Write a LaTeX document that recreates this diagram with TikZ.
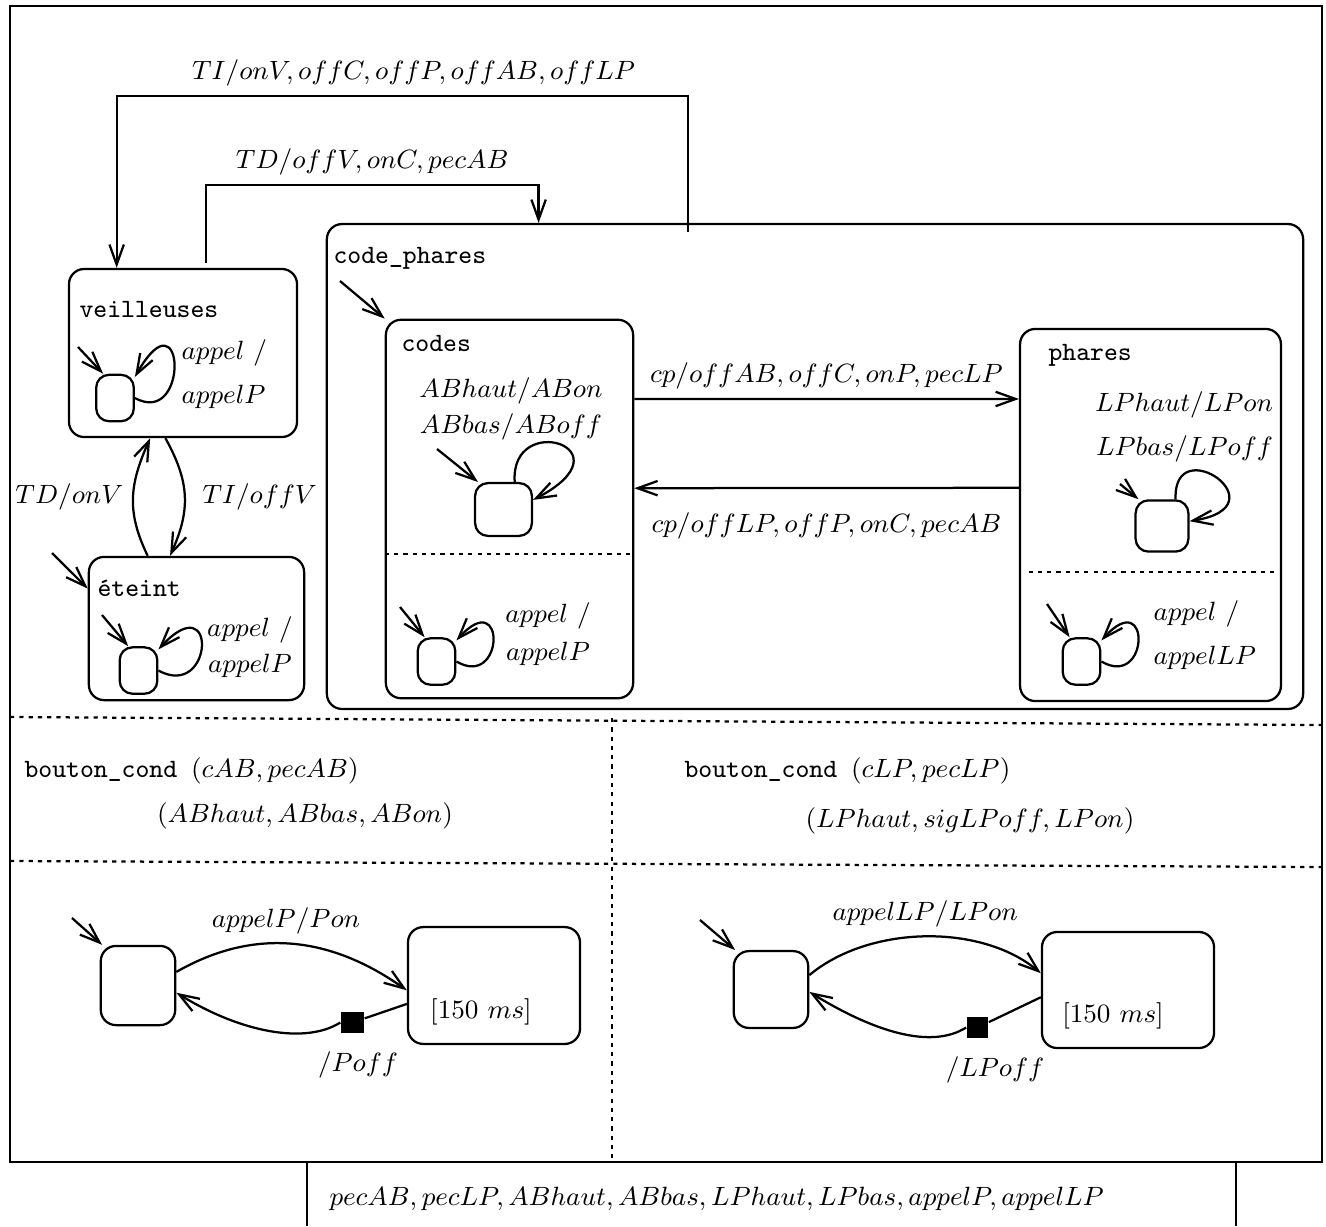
\RequirePackage{fix-cm}
\documentclass[tikz,border=0pt]{standalone}
\usepackage{fontspec}
\usepackage{amsmath}
\usetikzlibrary{arrows.meta,positioning}

\begin{document}
\fontsize{9.4}{11.6}\selectfont
\begin{tikzpicture}[x=0.0125cm, y=-0.0125cm, >={Straight Barb[length=2.5mm,width=1.8mm]},
    etat/.style={draw, thick, rounded corners=0.19cm, inner sep=0pt},
    petit/.style={draw, thick, rounded corners=0.16cm, inner sep=0pt, minimum width=0.47cm, minimum height=0.58cm},
    fleche/.style={->, thick},
    pointille/.style={thick, dash pattern=on 1.5pt off 1.8pt},
    nom/.style={anchor=west, inner sep=0pt, font=\ttfamily}]
    \useasboundingbox (0,0) rectangle (1326,1226);

    % cadre general
    \draw[thick] (10,6) rectangle (1322,1162);
    \draw[thick] (307,1162) -- (307,1226);
    \draw[thick] (1236,1162) -- (1236,1226);
    \draw[pointille] (10,717) -- (1322,725);
    \draw[pointille] (10,861) -- (1322,867);
    \draw[pointille] (612,718) -- (612,1162);

    % veilleuses
    \node[etat, minimum width=2.85cm, minimum height=2.1cm] (veil) at (183,353) {};
    \node[nom] (veilNom) at (79,309) {veilleuses};
    \node[petit] (vInt) at (115,398) {};
    \node[anchor=west, inner sep=0pt, align=left] (vLab) at (181,374) {$appel\ /$\\[4pt]$appelP$};

    % eteint
    \node[etat, minimum width=2.69cm, minimum height=1.79cm] (eteint) at (196.5,628.5) {};
    \node[nom] (etNom) at (97,588) {éteint};
    \node[petit] (eInt) at (138.5,670.5) {};
    \node[align=center] (eLab) at (250,647) {$appel\ /$\\[1pt]$appelP$};

    % code_phares
    \node[etat, minimum width=12.2cm, minimum height=6.06cm] (cph) at (815,466.5) {};
    \node[nom] (cphNom) at (333,258) {code\_phares};

    \node[etat, minimum width=3.09cm, minimum height=4.73cm] (codes) at (509.5,509) {};
    \node[nom] (codesNom) at (401,343) {codes};
    \node[align=center] (cLab) at (511,409) {$ABhaut/ABon$\\[1pt]$ABbas/ABoff$};
    \node[petit, minimum width=0.71cm, minimum height=0.66cm] (cInt1) at (503.5,509.5) {};
    \node[petit] (cInt2) at (436.5,661.5) {};
    \node[align=center] (cLab2) at (548,634) {$appel\ /$\\[2pt]$appelP$};

    \node[etat, minimum width=3.26cm, minimum height=4.65cm] (phares) at (1150.5,515) {};
    \node[nom] (pharesNom) at (1048,355) {phares};
    \node[align=right] (pLab) at (1184,427) {$LPhaut/LPon$\\[4pt]$LPbas/LPoff$};
    \node[petit, minimum width=0.66cm, minimum height=0.64cm] (pInt1) at (1162,526) {};
    \node[petit] (pInt2) at (1081.5,661.5) {};
    \node[anchor=west, inner sep=0pt, align=left] (pLab2) at (1153,635) {$appel\ /$\\[4pt]$appelLP$};

    % transitions du haut
    \coordinate (tiDep) at (688,232);
    \draw[fleche] (tiDep) -- ++(0,-136) -| node[pos=0.24, above] {$TI/onV, offC, offP, offAB, offLP$} ([xshift=0.61cm]veil.north west);
    \coordinate (tdDep) at (206,263);
    \draw[fleche] (tdDep) -- ++(0,-78) -| node[pos=0.25, above] {$TD/offV, onC, pecAB$} ([xshift=2.66cm]cph.north west);

    \draw[fleche] ([xshift=-0.61cm]eteint.north) .. controls +(-22,-45) and +(-20,45) .. node[left] {$TD/onV$} ([xshift=-0.41cm]veil.south);
    \draw[fleche] ([xshift=-0.22cm]veil.south) .. controls +(25,45) and +(20,-45) .. node[right, xshift=0.1cm] {$TI/offV$} ([xshift=-0.33cm]eteint.north);

    \draw[fleche] ([yshift=1.375cm]codes.east) -- node[above] {$cp/offAB, offC, onP, pecLP$} ([yshift=1.45cm]phares.west);
    \draw[fleche] ([yshift=0.34cm]phares.west) -- node[below, yshift=-0.18cm] {$cp/offLP, offP, onC, pecAB$} ([yshift=0.26cm]codes.east);

    % etats initiaux et boucles
    \coordinate (iniE) at (52,553);
    \draw[fleche] (iniE) -- ([yshift=-0.41cm]eteint.north west);
    \coordinate (iniV) at (78,347);
    \draw[fleche] (iniV) -- ([xshift=0.1cm]vInt.north west);
    \draw[fleche] (vInt.east) .. controls +(55,30) and +(50,-88) .. ([yshift=-0.04cm]vInt.north east);
    \coordinate (iniEI) at (102,615);
    \draw[fleche] (iniEI) -- ([xshift=0.12cm]eInt.north west);
    \draw[fleche] (eInt.east) .. controls +(55,30) and +(60,-65) .. ([yshift=-0.04cm]eInt.north east);

    \coordinate (iniC) at (340,281);
    \draw[fleche] (iniC) -- (codes.north west);
    \coordinate (iniC1) at (437,449);
    \draw[fleche] (iniC1) -- ([xshift=0.05cm]cInt1.north west);
    \draw[fleche] ([xshift=0.14cm]cInt1.north) .. controls +(-5,-72) and +(100,-52) .. ([yshift=0.12cm]cInt1.east);
    \coordinate (iniC2) at (400,607);
    \draw[fleche] (iniC2) -- ([xshift=0.1cm]cInt2.north west);
    \draw[fleche] (cInt2.east) .. controls +(48,28) and +(50,-55) .. ([yshift=-0.04cm]cInt2.north east);

    \coordinate (iniP1) at (1120,484);
    \draw[fleche] (iniP1) -- ([xshift=0.05cm]pInt1.north west);
    \draw[fleche] ([xshift=0.17cm]pInt1.north) .. controls +(-3,-70) and +(95,-15) .. ([yshift=0.06cm]pInt1.east);
    \coordinate (iniP2) at (1047,604);
    \draw[fleche] (iniP2) -- ([xshift=0.1cm]pInt2.north west);
    \draw[fleche] (pInt2.east) .. controls +(48,28) and +(50,-55) .. ([yshift=-0.04cm]pInt2.north east);

    \draw[pointille] ([yshift=-0.56cm]codes.west) -- ([yshift=-0.56cm]codes.east);
    \draw[pointille] ([xshift=0.12cm, yshift=-0.71cm]phares.west) -- ([xshift=-0.08cm, yshift=-0.71cm]phares.east);

    % bouton_cond
    \node[nom] (bc1) at (24,771) {bouton\_cond $(cAB, pecAB)$};
    \node (bc1b) at (305,816) {$(ABhaut, ABbas, ABon)$};
    \node[nom] (bc2) at (684,771) {bouton\_cond $(cLP, pecLP)$};
    \node (bc2b) at (970,821) {$(LPhaut, sigLPoff, LPon)$};

    \node[etat, minimum width=0.93cm, minimum height=0.99cm] (bA) at (138,985.5) {};
    \node[etat, minimum width=2.15cm, minimum height=1.46cm] (bB) at (494,985.5) {};
    \node[fill, inner sep=0pt, minimum width=0.29cm, minimum height=0.26cm] (sqA) at (352.5,1022.5) {};
    \node (tA) at (481,1012) {$[150\ ms]$};
    \node (lPoff) at (358,1065) {$/Poff$};
    \coordinate (iniBA) at (72,918);
    \draw[fleche] (iniBA) -- ([xshift=0.03cm]bA.north west);
    \draw[fleche] ([yshift=0.17cm]bA.east) .. controls +(70,-40) and +(-85,-60) .. node[above] {$appelP/Pon$} ([yshift=-0.06cm]bB.west);
    \draw[thick] ([yshift=-0.23cm]bB.west) -- (sqA);
    \draw[fleche] (sqA.west) .. controls +(-35,22) and +(65,40) .. ([yshift=-0.09cm]bA.east);

    \node[etat, minimum width=0.93cm, minimum height=0.96cm] (brA) at (771,989.5) {};
    \node[etat, minimum width=2.15cm, minimum height=1.45cm] (brB) at (1128,990) {};
    \node[fill, inner sep=0pt, minimum width=0.27cm, minimum height=0.27cm] (sqB) at (977.5,1027.5) {};
    \node (tB) at (1113,1016) {$[150\ ms]$};
    \node (lLPoff) at (995,1070) {$/LPoff$};
    \coordinate (iniBRA) at (700,920);
    \draw[fleche] (iniBRA) -- ([xshift=0.03cm]brA.north west);
    \draw[fleche] ([yshift=0.18cm]brA.east) .. controls +(60,-50) and +(-60,-50) .. node[above] {$appelLP/LPon$} ([yshift=0.21cm]brB.west);
    \draw[thick] ([yshift=-0.09cm]brB.west) -- (sqB);
    \draw[fleche] (sqB.west) .. controls +(-35,22) and +(65,40) .. ([yshift=-0.03cm]brA.east);

    % signaux
    \node (sig) at (717,1199) {$pecAB, pecLP, ABhaut, ABbas, LPhaut, LPbas, appelP, appelLP$};
\end{tikzpicture}
\end{document}
